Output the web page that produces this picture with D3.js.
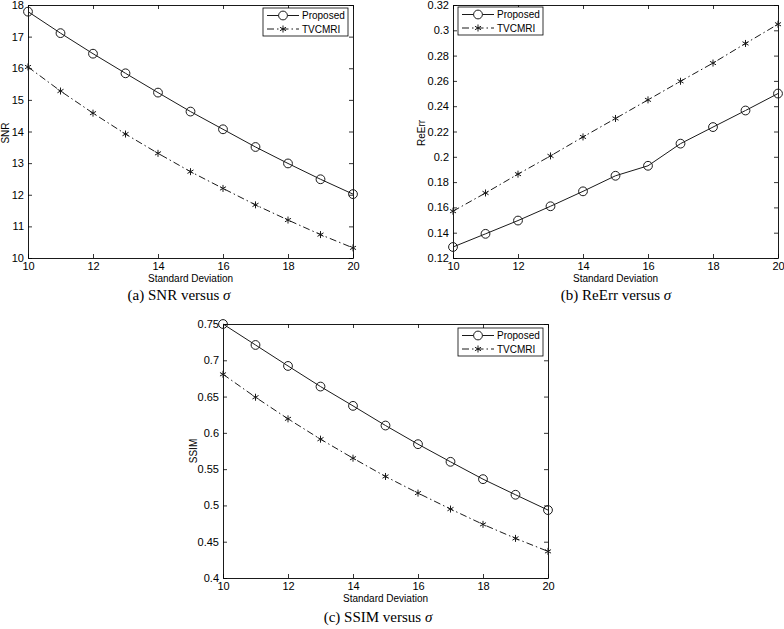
<!DOCTYPE html>
<html><head><meta charset="utf-8">
<script src="https://cdn.jsdelivr.net/npm/d3@7"></script>
<style>
body{margin:0;background:#fff;}
svg{display:block;}
</style></head>
<body>
<svg id="chart" width="784" height="629"></svg>
<script>
const sigma = [10,11,12,13,14,15,16,17,18,19,20];
const xTicks = [10,12,14,16,18,20];

const snrProposed = [17.79,17.11,16.46,15.84,15.23,14.63,14.07,13.51,12.99,12.49,12.02];
const snrTVCMRI   = [16.04,15.28,14.58,13.92,13.31,12.73,12.20,11.68,11.20,10.74,10.32];
const snrTicks = [10,11,12,13,14,15,16,17,18];

const reerrProposed = [0.1287,0.1391,0.1496,0.1609,0.1727,0.1850,0.1929,0.2104,0.2235,0.2366,0.2500];
const reerrTVCMRI   = [0.1570,0.1714,0.1863,0.2007,0.2157,0.2303,0.2450,0.2597,0.2741,0.2896,0.3048];
const reerrTicks = [0.12,0.14,0.16,0.18,0.2,0.22,0.24,0.26,0.28,0.3,0.32];

const ssimProposed = [0.750,0.7211,0.6922,0.6638,0.6372,0.6101,0.5844,0.5601,0.5362,0.5147,0.4936];
const ssimTVCMRI   = [0.6807,0.6491,0.6193,0.5913,0.5651,0.5399,0.5170,0.4950,0.4739,0.4546,0.4367];
const ssimTicks = [0.4,0.45,0.5,0.55,0.6,0.65,0.7,0.75];

const seriesNames = ["Proposed","TVCMRI"];

const svg = d3.select("#chart");
const tickFont = "Liberation Sans, Arial, sans-serif";

function panel(o){
  const g = svg.append("g").attr("transform",`translate(${o.left},${o.top})`);
  const x = d3.scaleLinear().domain([10,20]).range([0,o.w]);
  const y = d3.scaleLinear().domain(o.ydom).range([o.h,0]);
  const fmt = d3.format("~g");

  g.append("g").attr("transform",`translate(0,${o.h})`)
    .call(d3.axisBottom(x).tickValues(xTicks).tickSize(-4).tickSizeOuter(0).tickPadding(4).tickFormat(fmt));
  g.append("g")
    .call(d3.axisLeft(y).tickValues(o.yticks).tickSize(-4).tickSizeOuter(0).tickPadding(4).tickFormat(fmt));
  g.append("g").call(d3.axisTop(x).tickValues(xTicks).tickSize(-4).tickSizeOuter(0).tickFormat(""));
  g.append("g").attr("transform",`translate(${o.w},0)`)
    .call(d3.axisRight(y).tickValues(o.yticks).tickSize(-4).tickSizeOuter(0).tickFormat(""));
  g.selectAll(".domain").attr("stroke","#000").attr("stroke-width",0.9);
  g.selectAll(".tick line").attr("stroke","#000").attr("stroke-width",0.8);
  g.selectAll(".tick text").attr("fill","#000").style("font-family",tickFont).style("font-size","11px");

  const line = d3.line().x((d,i)=>x(sigma[i])).y(d=>y(d));
  g.append("path").datum(o.a).attr("d",line).attr("fill","none").attr("stroke","#1a1a1a").attr("stroke-width",1);
  g.append("path").datum(o.b).attr("d",line).attr("fill","none").attr("stroke","#1a1a1a").attr("stroke-width",1)
    .attr("stroke-dasharray","7,3,1.5,3");

  g.selectAll("circle.m").data(o.a).join("circle").attr("class","m")
    .attr("cx",(d,i)=>x(sigma[i])).attr("cy",d=>y(d)).attr("r",4.4)
    .attr("fill","none").attr("stroke","#1a1a1a").attr("stroke-width",1);
  const star = d3.symbol(d3.symbolAsterisk,34);
  g.selectAll("path.s").data(o.b).join("path").attr("class","s")
    .attr("transform",(d,i)=>`translate(${x(sigma[i])},${y(d)})`).attr("d",star())
    .attr("fill","none").attr("stroke","#1a1a1a").attr("stroke-width",1);

  // axis labels
  g.append("text").attr("x",o.w/2).attr("y",o.h+24).attr("text-anchor","middle")
    .style("font-family",tickFont).style("font-size","10px").text("Standard Deviation");
  g.append("text").attr("transform",`translate(${o.ylabX},${o.ylabY}) rotate(-90)`).attr("text-anchor","middle")
    .style("font-family",tickFont).style("font-size","10px").text(o.ylabel);

  // legend
  const lw = 85, lh = 28;
  const lx = o.legendLeft ? 5 : o.w - lw - 5;
  const lg = g.append("g").attr("transform",`translate(${lx},${o.legendTop})`);
  lg.append("rect").attr("width",lw).attr("height",lh).attr("fill","#fff").attr("stroke","#000").attr("stroke-width",0.8);
  seriesNames.forEach((name,k)=>{
    const yy = k===0 ? 7.5 : 21;
    lg.append("line").attr("x1",4).attr("x2",36).attr("y1",yy).attr("y2",yy)
      .attr("stroke","#1a1a1a").attr("stroke-width",1)
      .attr("stroke-dasharray", k===0 ? null : "7,3,1.5,3");
    if(k===0) lg.append("circle").attr("cx",20).attr("cy",yy).attr("r",4.4).attr("fill","#fff").attr("stroke","#1a1a1a");
    else lg.append("path").attr("transform",`translate(20,${yy})`).attr("d",star()).attr("fill","none").attr("stroke","#1a1a1a");
    lg.append("text").attr("x",39).attr("y",yy+3.6).style("font-family",tickFont).style("font-size","10px").text(name);
  });

  // caption
  const cap = svg.append("text").attr("x",o.capX).attr("y",o.capY).attr("text-anchor","middle")
    .style("font-family","Liberation Serif, Times New Roman, serif").style("font-size","15px");
  cap.append("tspan").text(o.caption + " versus ");
  cap.append("tspan").style("font-style","italic").text("σ");
}

panel({left:28,top:5,w:325,h:253,ydom:[10,18],yticks:snrTicks,a:snrProposed,b:snrTVCMRI,
  ylabel:"SNR",ylabX:-19,ylabY:128,legendLeft:false,legendTop:3,caption:"(a) SNR",capX:179,capY:300});
panel({left:453,top:5,w:325,h:253,ydom:[0.12,0.32],yticks:reerrTicks,a:reerrProposed,b:reerrTVCMRI,
  ylabel:"ReErr",ylabX:-28,ylabY:128,legendLeft:true,legendTop:2,caption:"(b) ReErr",capX:616,capY:300});
panel({left:223,top:324,w:325,h:254,ydom:[0.4,0.75],yticks:ssimTicks,a:ssimProposed,b:ssimTVCMRI,
  ylabel:"SSIM",ylabX:-26,ylabY:127,legendLeft:false,legendTop:4,caption:"(c) SSIM",capX:378,capY:622});
</script>
</body></html>
